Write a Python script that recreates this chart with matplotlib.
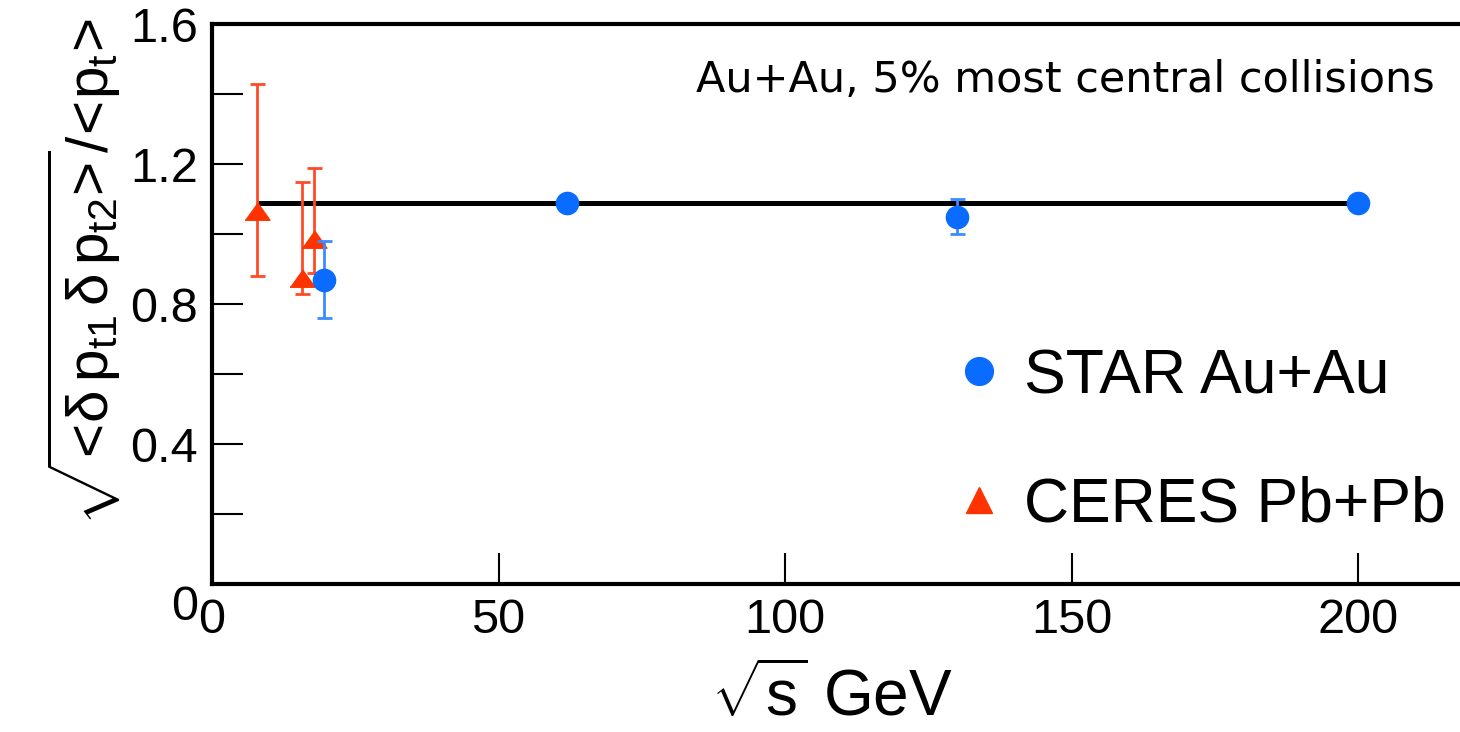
import matplotlib
matplotlib.use("Agg")
import matplotlib.pyplot as plt
import matplotlib.transforms as mtransforms
from matplotlib.lines import Line2D

plt.rcParams['font.family'] = ['Liberation Sans', 'DejaVu Sans']
plt.rcParams['mathtext.fontset'] = 'custom'
plt.rcParams['mathtext.rm'] = 'Liberation Sans'
plt.rcParams['mathtext.it'] = 'Liberation Sans'
plt.rcParams['mathtext.bf'] = 'Liberation Sans:bold'

# STAR Au+Au
star_x = [19.6, 62.0, 130.0, 200.0]
star_y = [0.87, 1.09, 1.05, 1.09]
star_lo = [0.11, 0.0, 0.05, 0.0]
star_hi = [0.11, 0.0, 0.05, 0.0]

# CERES Pb+Pb
ceres_x = [7.8, 15.7, 17.8]
ceres_y = [1.065, 0.875, 0.985]
ceres_lo = [0.185, 0.045, 0.095]
ceres_hi = [0.365, 0.275, 0.205]

# constant line
line_x = [7.8, 200.0]
line_y = [1.09, 1.09]

blue = '#0a6cff'
blue_err = '#3b8cff'
red = '#ff3300'
red_err = '#ff4a26'

tri = [(-1, -0.7), (1, -0.7), (0, 0.7)]

fig = plt.figure(figsize=(14.6, 7.32), dpi=100)
ax = fig.add_axes([212/1460, 148/732, 225*5.73/1460, 560/732])

ax.plot(line_x, line_y, color='black', lw=3.6, zorder=2, solid_capstyle='butt')

ax.errorbar(ceres_x, ceres_y, yerr=[ceres_lo, ceres_hi], fmt='none',
            ecolor=red_err, elinewidth=2, capsize=5.4, capthick=2, zorder=3)
ax.plot(ceres_x, ceres_y, ls='none', marker=tri, ms=18, color=red, mec=red, zorder=4)

ax.errorbar(star_x, star_y, yerr=[star_lo, star_hi], fmt='none',
            ecolor=blue_err, elinewidth=2, capsize=5.4, capthick=2, zorder=5)
ax.plot(star_x, star_y, ls='none', marker='o', ms=16, color=blue, mec=blue, zorder=6)

ax.set_xlim(0, 225)
ax.set_ylim(0, 1.6)
ax.set_xticks([0, 50, 100, 150, 200])
ax.set_yticks([0, 0.4, 0.8, 1.2, 1.6])
ax.set_yticklabels(['0', '0.4', '0.8', '1.2', '1.6'])
ax.set_yticks([0.2, 0.6, 1.0, 1.4], minor=True)
ax.tick_params(axis='both', which='both', direction='in', length=22, width=1.5,
               labelsize=35, pad=10)
ax.tick_params(axis='both', which='both', top=False, right=False)
for s in ['left', 'bottom', 'top']:
    ax.spines[s].set_linewidth(3)
ax.spines['right'].set_visible(False)

fig.text(84/1460, 1 - 272/732,
         r'$\sqrt{\!<\!\delta\,p_{t1}\,\delta\,p_{t2}\!>\!}/\!<\!p_{t}\!>$',
         rotation=90, ha='center', va='center', fontsize=42)
fig.text(832/1460, 1 - 697/732, r'$\sqrt{\mathrm{s}}$ GeV',
         ha='center', va='center', fontsize=46)

fig.text(1435/1460, 1 - 80/732, 'Au+Au, 5% most central collisions',
         ha='right', va='center', fontsize=31, family='DejaVu Sans')

handles = [Line2D([], [], ls='none', marker='o', ms=20, color=blue),
           Line2D([], [], ls='none', marker='^', ms=19, color=red)]
fig.legend(handles, ['STAR Au+Au', 'CERES Pb+Pb'], loc='upper left',
           bbox_to_anchor=(960/1460, 1 - 347/732), frameon=False,
           fontsize=45, handlelength=0.6, handletextpad=0.42,
           labelspacing=1.12, borderpad=0, borderaxespad=0)

# the y-axis zero sits a little below the corner
fig.canvas.draw()
zero = ax.get_yticklabels()[0]
zero.set_transform(zero.get_transform() +
                   mtransforms.ScaledTranslation(0, -13/72, fig.dpi_scale_trans))

fig.savefig('out.png', dpi=100)
